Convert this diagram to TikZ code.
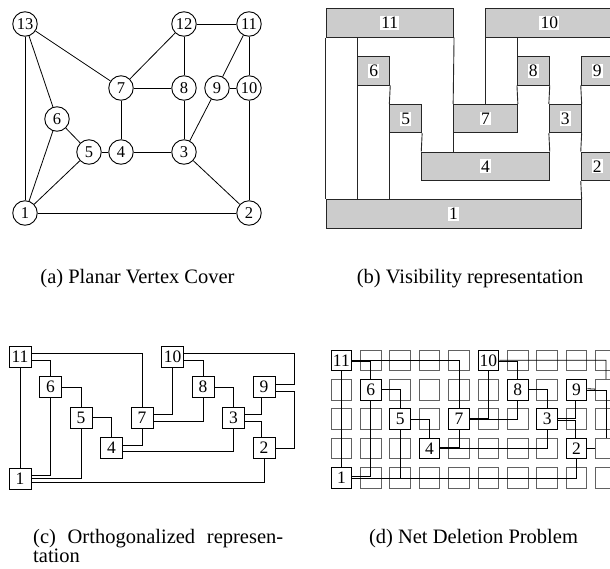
\documentclass[tikz,border=0pt]{standalone}
\usepackage{fontspec}
\setmainfont{Liberation Serif}
\usetikzlibrary{calc}
\begin{document}
\begin{tikzpicture}[x=1pt,y=-1pt,
  vtx/.style={circle,draw,line width=0.9pt,minimum size=24.5pt,inner sep=0pt,
    fill=white,font=\fontsize{16.5}{16.5}\selectfont},
  edge/.style={line width=0.8pt},
  bar/.style={draw=black!85,fill=black!20,line width=0.9pt,inner sep=0pt,
    minimum height=28.5pt},
  tag/.style={fill=white,inner sep=1.2pt,font=\fontsize{17.5}{17.5}\selectfont},
  vline/.style={line width=0.9pt,draw=black!85},
  obox/.style={draw,line width=0.9pt,fill=white,minimum width=22pt,
    minimum height=21pt,inner sep=0pt,font=\fontsize{17.5}{17.5}\selectfont},
  wire/.style={line width=0.8pt},
  cell/.style={draw=black!62,line width=1pt,minimum size=20.7pt,inner sep=0pt},
  nbox/.style={draw=black,fill=white,line width=1pt,minimum size=20.7pt,
    inner sep=0pt,font=\fontsize{17.5}{17.5}\selectfont},
  captext/.style={inner sep=0pt,font=\fontsize{20.5}{19}\selectfont}]
\useasboundingbox (0,0) rectangle (610,568);
\clip (0,0) rectangle (610,568);

% ---------- (a) planar graph ----------
\node[vtx] (a13) at (25,24)   {13};
\node[vtx] (a12) at (184,24)  {12};
\node[vtx] (a11) at (249,24)  {11};
\node[vtx] (a7)  at (121,88)  {7};
\node[vtx] (a8)  at (184,88)  {8};
\node[vtx] (a9)  at (217,88)  {9};
\node[vtx] (a10) at (249,88)  {10};
\node[vtx] (a6)  at (57,119)  {6};
\node[vtx] (a5)  at (89,152)  {5};
\node[vtx] (a4)  at (121,152) {4};
\node[vtx] (a3)  at (184,152) {3};
\node[vtx] (a1)  at (25,213)  {1};
\node[vtx] (a2)  at (249,213) {2};
\foreach \u/\v in {a13/a1,a13/a6,a13/a7,a12/a7,a12/a11,a12/a8,a11/a9,a11/a10,
  a7/a8,a7/a4,a9/a10,a9/a3,a8/a3,a10/a2,a6/a5,a6/a1,a5/a4,a5/a1,a4/a3,a3/a2,a1/a2}
  \draw[edge] (\u) -- (\v);

% ---------- (b) visibility representation ----------
% bar: name, label, first column, last column, row
\newcommand\visbar[5]{%
  \node[bar,minimum width={31.9*(#4-#3)}] (#1)
    at ({326+31.9*(#3+#4)/2},{8.7+47.8*#5+14.25}) {};
  \node[tag] (#1t) at (#1) {#2};}
\visbar{b11}{11}{0}{4}{0}
\visbar{b10}{10}{5}{9}{0}
\visbar{b6}{6}{1}{2}{1}
\visbar{b8}{8}{6}{7}{1}
\visbar{b9}{9}{8}{9}{1}
\visbar{b5}{5}{2}{3}{2}
\visbar{b7}{7}{4}{6}{2}
\visbar{b3}{3}{7}{8}{2}
\visbar{b4}{4}{3}{7}{3}
\visbar{b2}{2}{8}{9}{3}
\visbar{b1}{1}{0}{8}{4}
\draw[vline] (b11.south west) -- (b1.north west);
\draw[vline] (b6.north west |- b11.south) -- (b6.north west);
\draw[vline] (b6.south west) -- (b6.south west |- b1.north);
\draw[vline] (b6.south east) -- (b5.north west);
\draw[vline] (b5.south west) -- (b5.south west |- b1.north);
\draw[vline] (b5.south east) -- (b4.north west);
\draw[vline] (b11.south east) -- (b7.north west);
\draw[vline] (b7.south west) -- (b7.south west |- b4.north);
\draw[vline] (b10.south west) -- (b10.south west |- b7.north);
\draw[vline] (b8.north west |- b10.south) -- (b8.north west);
\draw[vline] (b8.south west) -- (b7.north east);
\draw[vline] (b8.south east) -- (b3.north west);
\draw[vline] (b3.south west) -- (b4.north east);
\draw[vline] (b9.south west) -- (b3.north east);
\draw[vline] (b3.south east) -- (b2.north west);
\draw[vline] (b2.south west) -- (b1.north east);

% ---------- (c) orthogonalized representation ----------
\foreach \i in {0,...,9} \foreach \j in {0,...,4}
  \coordinate (cg-\i-\j) at ({20+30.5*\i},{356.5+30.5*\j});
\foreach \n/\i/\j in {11/0/0,6/1/1,5/2/2,4/3/3,1/0/4,7/4/2,10/5/0,8/6/1,3/7/2,9/8/1,2/8/3}
  \node[obox] (c\n) at (cg-\i-\j) {\n};
\draw[wire] (c11.south) -- (c1.north);
\draw[wire] ([yshift=3.5]c11.east) -| (c7.north);
\draw[wire] ([yshift=-3.5]c11.east) -| (c6.north);
\draw[wire] (c6.east) -| (c5.north);
\draw[wire] (c6.south) |- ([yshift=3.5]c1.east);
\draw[wire] (c5.east) -| (c4.north);
\draw[wire] (c5.south) |- (c1.east);
\draw[wire] (c2.south) |- ([yshift=-3.5]c1.east);
\draw[wire] ([yshift=3]c4.east) -| (c7.south);
\draw[wire] ([yshift=-3]c4.east) -| (c3.south);
\draw[wire] ([yshift=3.5]c7.east) -| (c10.south);
\draw[wire] ([yshift=-3.5]c7.east) -| (c8.south);
\draw[wire] ([yshift=-3.5]c10.east) -| (c8.north);
\draw[wire] ([yshift=3.5]c10.east) -| ([yshift=3]cg-9-1) -- ([yshift=3]c9.east);
\draw[wire] (c8.east) -| (c3.north);
\draw[wire] ([yshift=3.5]c3.east) -| ([xshift=-3]c9.south);
\draw[wire] ([yshift=-4]c3.east) -| ([xshift=-3]c2.north);
\draw[wire] ([yshift=-4]c9.east) -| (cg-9-3) -- (c2.east);

% ---------- (d) net deletion problem ----------
\foreach \i in {0,...,10} \foreach \j in {0,...,4}
  \node[cell] (g-\i-\j) at ({341.4+29.4*\i},{360.4+29.4*\j}) {};
\draw[wire] (g-0-0) -- (g-0-4);
\draw[wire] ([yshift=3]g-0-0) -| (g-4-2);
\draw[wire] ([yshift=-3]g-0-0) -| (g-1-1);
\draw[wire] (g-1-1) -| (g-2-2);
\draw[wire] (g-1-1) |- ([yshift=3.5]g-0-4);
\draw[wire] (g-2-2) -| (g-3-3);
\draw[wire] (g-2-2) |- (g-0-4);
\draw[wire] (g-8-3) |- ([yshift=-3.5]g-0-4);
\draw[wire] ([yshift=3.5]g-3-3) -| (g-4-2);
\draw[wire] ([yshift=-3]g-3-3) -| (g-7-2);
\draw[wire] ([yshift=3]g-4-2) -| (g-5-0);
\draw[wire] ([yshift=-2.5]g-4-2) -| (g-6-1);
\draw[wire] ([yshift=-2.5]g-5-0) -| (g-6-1);
\draw[wire] ([yshift=2.5]g-5-0) -| ([yshift=3]g-9-1) -- ([yshift=3]g-8-1);
\draw[wire] (g-6-1) -| (g-7-2);
\draw[wire] ([yshift=3]g-7-2) -| ([xshift=-3.5]g-8-1);
\draw[wire] ([yshift=-2.5]g-7-2) -| ([xshift=-3.5]g-8-3);
\draw[wire] ([yshift=-2]g-8-1) -| (g-9-3) -- (g-8-3);
\foreach \n/\i/\j in {11/0/0,6/1/1,5/2/2,4/3/3,1/0/4,7/4/2,10/5/0,8/6/1,3/7/2,9/8/1,2/8/3}
  \node[nbox] (d\n) at (g-\i-\j) {\n};

% ---------- captions ----------
\node[captext,anchor=base] (capa) at (137.5,283) {(a) Planar Vertex Cover};
\node[captext,anchor=base] (capb) at (470,283) {(b) Visibility representation};
\node[captext,anchor=base west] (capc) at (33,543.5)
  {\vtop{\baselineskip=19pt
    \hbox{\makebox[250pt][s]{(c) Orthogonalized represen-}}
    \hbox{tation}}};
\node[captext,anchor=base] (capd) at (473.5,543.5) {(d) Net Deletion Problem};
\end{tikzpicture}
\end{document}
